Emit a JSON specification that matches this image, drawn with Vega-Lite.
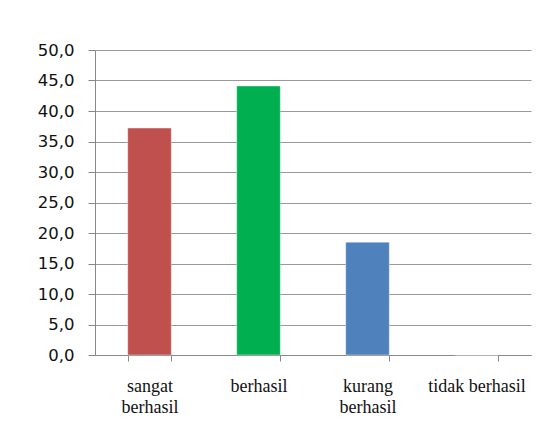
{
  "$schema": "https://vega.github.io/schema/vega-lite/v6.json",
  "autosize": {"type": "none"},
  "width": 436,
  "height": 305,
  "padding": {"left": 95, "top": 50, "right": 15, "bottom": 85},
  "background": "white",
  "config": {"view": {"stroke": null}},
  "data": {
    "values": [
      {"kategori": "sangat berhasil", "nilai": 37.2},
      {"kategori": "berhasil", "nilai": 44.1},
      {"kategori": "kurang berhasil", "nilai": 18.5},
      {"kategori": "tidak berhasil", "nilai": 0}
    ]
  },
  "mark": {"type": "bar", "stroke": "#ffffff", "strokeOpacity": 0.4, "strokeWidth": 1},
  "encoding": {
    "x": {
      "field": "kategori",
      "type": "nominal",
      "sort": null,
      "scale": {"paddingInner": 0.6, "paddingOuter": 0.3},
      "axis": {
        "title": null,
        "labelAngle": 0,
        "tickBand": "extent",
        "grid": false,
        "domainColor": "#888888",
        "tickColor": "#888888",
        "tickSize": 6,
        "labelFont": "Liberation Serif",
        "labelFontSize": 18,
        "labelColor": "#111111",
        "labelPadding": 16,
        "labelLineHeight": 21,
        "labelBaseline": "top",
        "labelExpr": "datum.label == 'sangat berhasil' ? ['sangat', 'berhasil'] : datum.label == 'kurang berhasil' ? ['kurang', 'berhasil'] : datum.label"
      }
    },
    "y": {
      "field": "nilai",
      "type": "quantitative",
      "scale": {"domain": [0, 50]},
      "axis": {
        "title": null,
        "values": [0, 5, 10, 15, 20, 25, 30, 35, 40, 45, 50],
        "labelExpr": "replace(format(datum.value, '.1f'), '.', ',')",
        "grid": true,
        "gridColor": "#999999",
        "gridWidth": 1.2,
        "domainColor": "#888888",
        "tickColor": "#888888",
        "tickSize": 7,
        "labelFont": "DejaVu Sans",
        "labelFontSize": 16.5,
        "labelColor": "#111111",
        "labelPadding": 14
      }
    },
    "color": {
      "field": "kategori",
      "type": "nominal",
      "sort": null,
      "scale": {
        "domain": ["sangat berhasil", "berhasil", "kurang berhasil", "tidak berhasil"],
        "range": ["#C0504D", "#00B050", "#4F81BD", "#8064A2"]
      },
      "legend": null
    }
  }
}
